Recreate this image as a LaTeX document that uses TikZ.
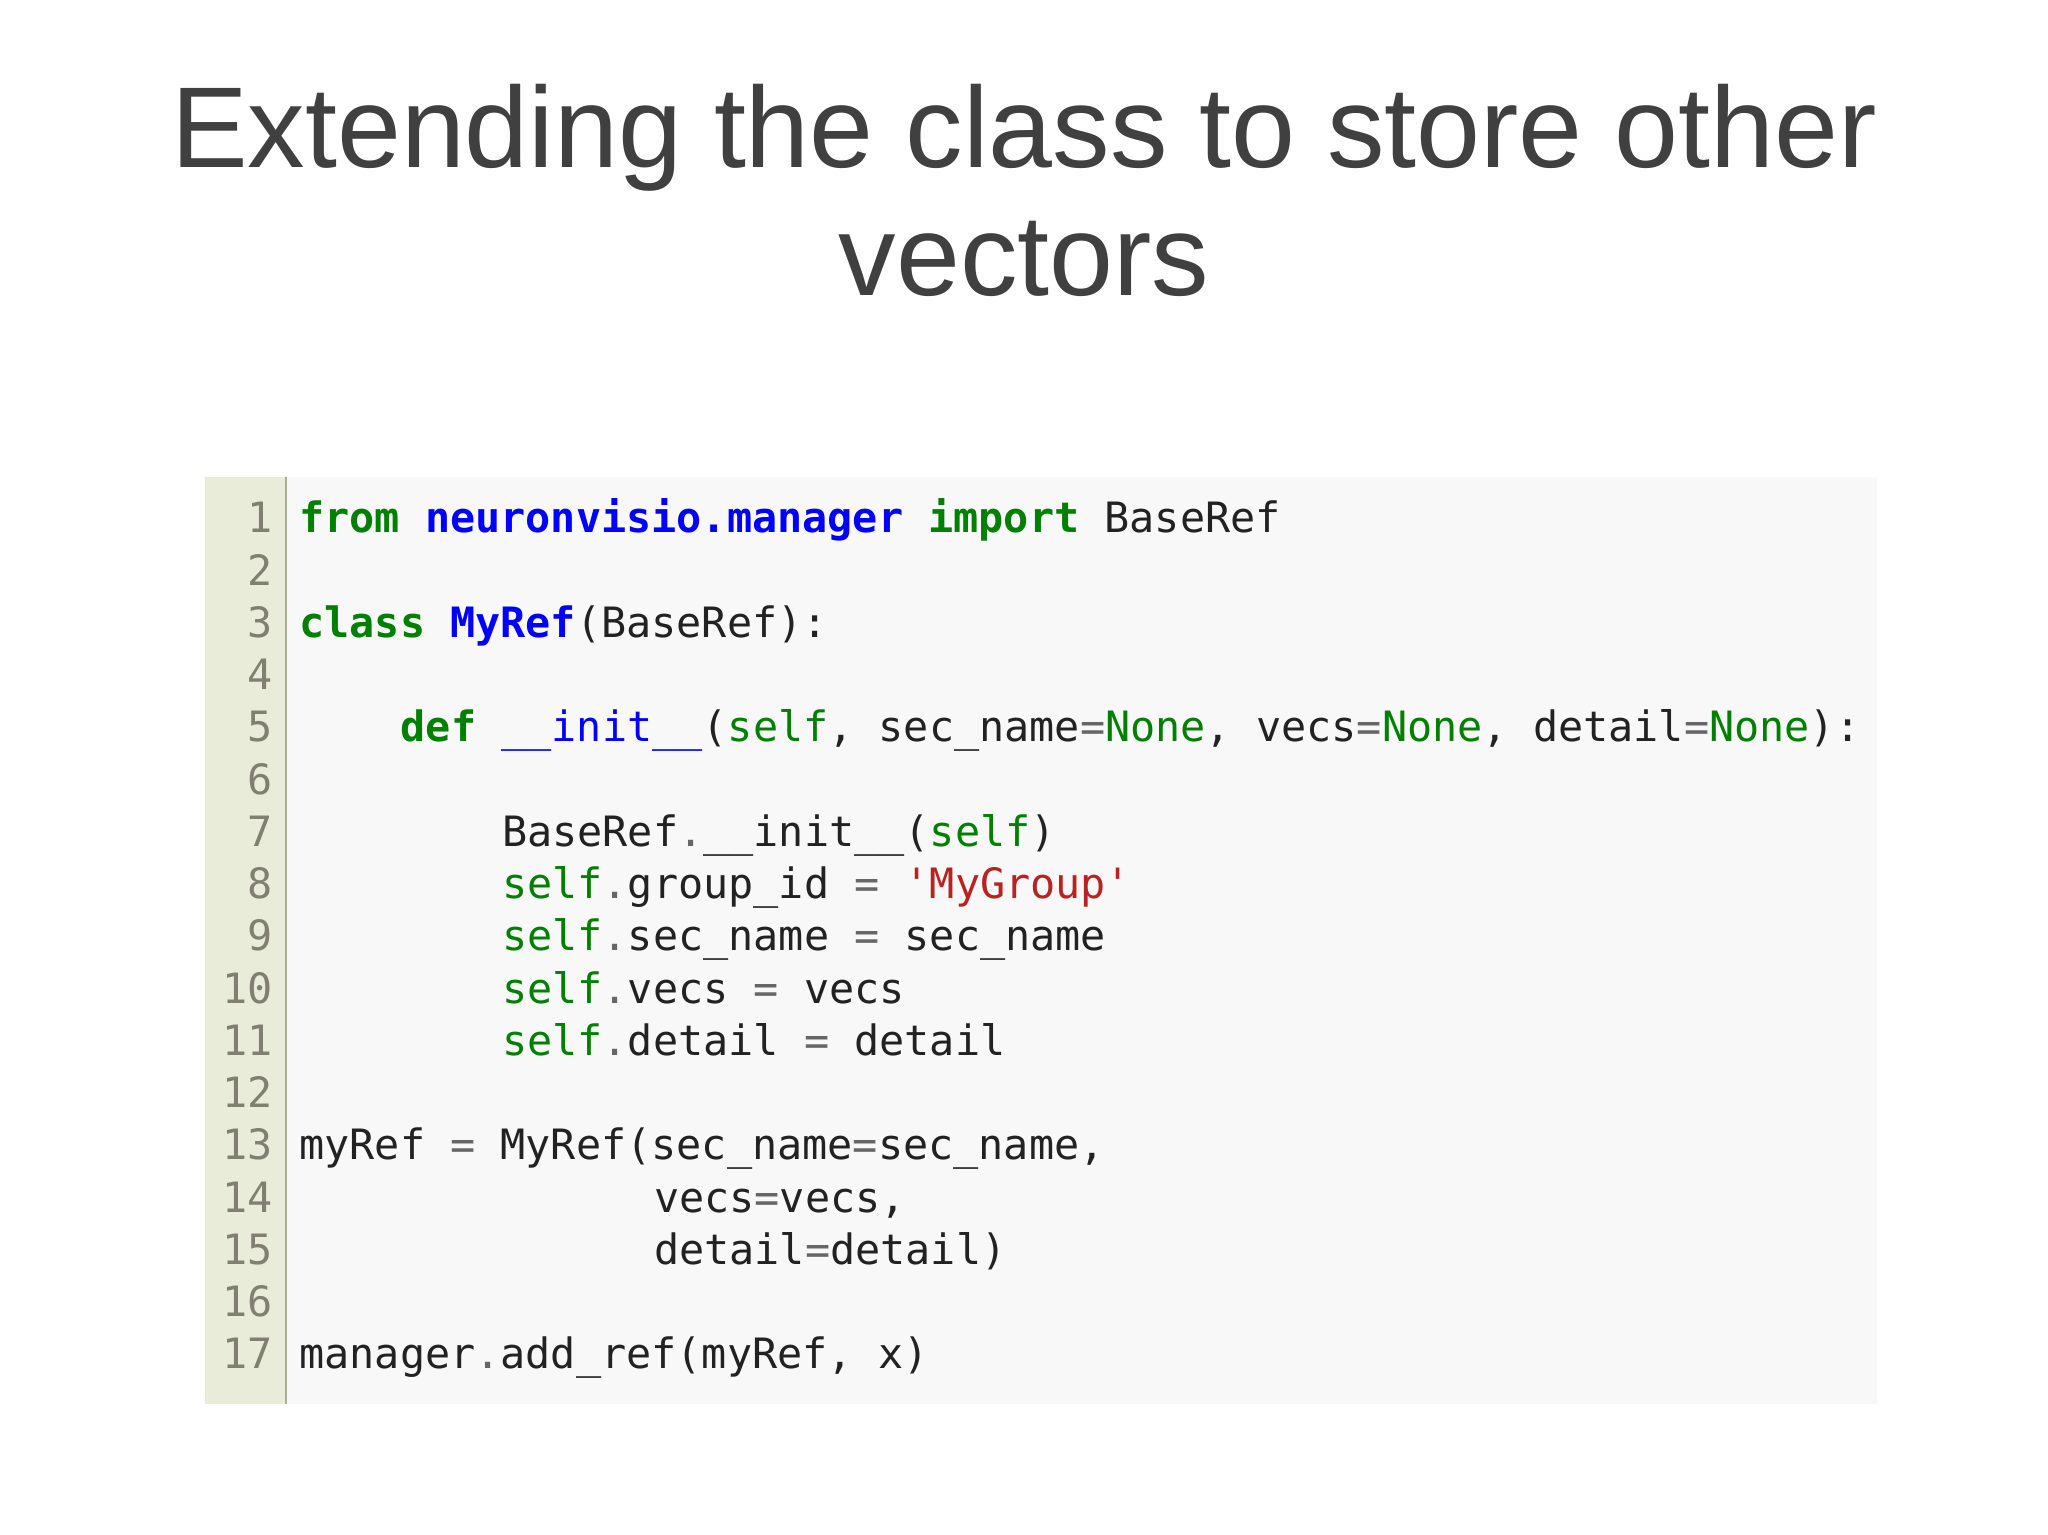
\documentclass[tikz,border=0pt]{standalone}
\usepackage{fontspec}
\setmainfont{Liberation Sans}
\setmonofont{DejaVu Sans Mono}
\definecolor{kw}{HTML}{008000}
\definecolor{nm}{HTML}{0000FF}
\definecolor{st}{HTML}{BA2121}
\definecolor{op}{HTML}{666666}
\definecolor{tx}{HTML}{222222}
\definecolor{gut}{HTML}{E8ECD9}
\definecolor{gline}{HTML}{A8AE90}
\definecolor{bg}{HTML}{F8F8F8}
\definecolor{lno}{HTML}{808070}
\definecolor{ttl}{HTML}{404040}
\newcommand{\K}[1]{\textcolor{kw}{\bfseries #1}}
\newcommand{\N}[1]{\textcolor{nm}{\bfseries #1}}
\newcommand{\G}[1]{\textcolor{kw}{#1}}
\newcommand{\R}[1]{\textcolor{st}{#1}}
\newcommand{\Op}[1]{\textcolor{op}{#1}}
\begin{document}
\begin{tikzpicture}[x=1pt,y=-1pt,
  code/.style={anchor=base west,inner sep=0pt,text=tx,font=\fontsize{32}{38}\ttfamily},
  lnum/.style={anchor=base east,inner sep=0pt,text=lno,font=\fontsize{32}{38}\ttfamily},
  ttlstyle/.style={inner sep=0pt,text=ttl,font=\fontsize{88}{100}\selectfont,anchor=base}]
\useasboundingbox (0,0) rectangle (1568,1175);
\fill[white] (0,0) rectangle (1568,1175);
\fill[bg] (157,365) rectangle (1437,1075);
\fill[gut] (157,365) rectangle (219,1075);
\draw[gline,line width=1.2pt] (219,365) -- (219,1075);
\node[ttlstyle] (t1) at (784,128) {Extending the class to store other};
\node[ttlstyle] (t2) at (784,226) {vectors};
\foreach \i in {1,...,17} {\node[lnum] (n\i) at (209,{408+40*(\i-1)}) {\i};}
\def\L#1{408+40*(#1-1)}
\def\cw{19.4}
\node[code] (c1) at (229,{\L{1}}) {\K{from}\ \N{neuronvisio.manager}\ \K{import}\ BaseRef};
\node[code] (c3) at (229,{\L{3}}) {\K{class}\ \N{MyRef}(BaseRef):};
\node[code] (c5) at ({229+4*\cw},{\L{5}}) {\K{def}\ \textcolor{nm}{\_\_init\_\_}(\G{self},\ sec\_name\Op{=}\G{None},\ vecs\Op{=}\G{None},\ detail\Op{=}\G{None}):};
\node[code] (c7) at ({229+8*\cw},{\L{7}}) {BaseRef\Op{.}\_\_init\_\_(\G{self})};
\node[code] (c8) at ({229+8*\cw},{\L{8}}) {\G{self}\Op{.}group\_id\ \Op{=}\ \R{'MyGroup'}};
\node[code] (c9) at ({229+8*\cw},{\L{9}}) {\G{self}\Op{.}sec\_name\ \Op{=}\ sec\_name};
\node[code] (c10) at ({229+8*\cw},{\L{10}}) {\G{self}\Op{.}vecs\ \Op{=}\ vecs};
\node[code] (c11) at ({229+8*\cw},{\L{11}}) {\G{self}\Op{.}detail\ \Op{=}\ detail};
\node[code] (c13) at (229,{\L{13}}) {myRef\ \Op{=}\ MyRef(sec\_name\Op{=}sec\_name,};
\node[code] (c14) at ({229+14*\cw},{\L{14}}) {vecs\Op{=}vecs,};
\node[code] (c15) at ({229+14*\cw},{\L{15}}) {detail\Op{=}detail)};
\node[code] (c17) at (229,{\L{17}}) {manager\Op{.}add\_ref(myRef,\ x)};
\end{tikzpicture}
\end{document}
